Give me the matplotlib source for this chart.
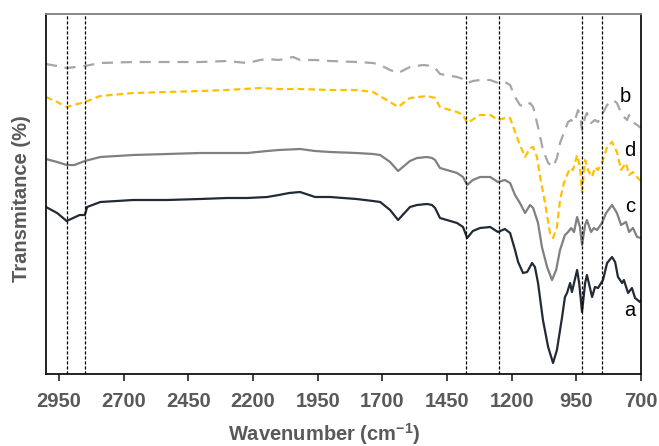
import matplotlib
matplotlib.use("Agg")
import matplotlib.pyplot as plt

plt.rcParams['font.family'] = ['Liberation Sans', 'DejaVu Sans']
plt.rcParams['mathtext.fontset'] = 'custom'
plt.rcParams['mathtext.rm'] = 'Liberation Sans:bold'
plt.rcParams['mathtext.bf'] = 'Liberation Sans:bold'

# FTIR spectra (offset transmittance, arbitrary units)
wn_a = [3000, 2957, 2920, 2870, 2850, 2841, 2790, 2663, 2532, 2404, 2300, 2222, 2145, 2100,
        2060, 2018, 1960, 1902, 1800, 1736, 1708, 1670, 1639, 1593, 1566, 1527, 1508, 1496,
        1477, 1411, 1388, 1372, 1350, 1322, 1283, 1253, 1226, 1206, 1187, 1175, 1156, 1140,
        1121, 1110, 1098, 1079, 1059, 1040, 1025, 1005, 994, 986, 974, 967, 947, 939, 928,
        916, 909, 889, 878, 866, 847, 831, 812, 800, 789, 773, 766, 750, 735, 723, 704, 700]
t_a = [167, 161, 153, 159, 159, 167, 172, 174, 174, 175, 176, 176, 177, 179,
       181, 182, 177, 177, 175, 173, 172, 164, 154, 167, 169, 170, 169, 166,
       156, 151, 147, 136, 143, 146, 147, 142, 145, 141, 124, 112, 101, 102,
       111, 107, 91, 54, 27, 11, 24, 57, 77, 81, 91, 82, 104, 91, 62,
       91, 99, 77, 87, 86, 94, 111, 117, 112, 97, 91, 94, 81, 86, 76, 72, 74]

wn_c = [3000, 2957, 2920, 2890, 2850, 2790, 2663, 2532, 2404, 2222, 2145, 2100, 2018, 1960,
        1902, 1800, 1736, 1708, 1670, 1639, 1593, 1566, 1527, 1508, 1496, 1477, 1411, 1388,
        1372, 1350, 1322, 1283, 1253, 1226, 1206, 1187, 1168, 1148, 1129, 1117, 1098, 1083,
        1063, 1044, 1028, 1013, 994, 982, 970, 959, 947, 936, 928, 916, 909, 893, 882, 870,
        851, 835, 812, 793, 777, 758, 746, 731, 715, 700]
t_c = [215, 212, 209, 209, 213, 217, 219, 220, 221, 221, 223, 224, 225, 223,
       222, 221, 220, 219, 212, 203, 213, 216, 217, 216, 214, 206, 201, 197,
       189, 194, 197, 197, 192, 194, 191, 179, 171, 161, 169, 166, 151, 127,
       107, 94, 104, 124, 139, 142, 146, 142, 157, 147, 129, 149, 154, 142, 146, 144,
       151, 161, 169, 161, 149, 152, 142, 146, 137, 136]

wn_d = [3000, 2957, 2920, 2850, 2790, 2663, 2532, 2404, 2300, 2172, 2100, 2018, 1902, 1800,
        1736, 1670, 1639, 1593, 1527, 1496, 1477, 1411, 1388, 1372, 1322, 1283, 1253, 1226,
        1206, 1187, 1168, 1148, 1129, 1117, 1102, 1090, 1071, 1052, 1040, 1025, 1013, 998,
        986, 974, 963, 947, 936, 928, 916, 905, 889, 878, 866, 851, 831, 812, 793, 777,
        758, 746, 731, 712, 700]
t_d = [277, 272, 267, 272, 278, 281, 282, 283, 284, 286, 285, 285, 284, 284,
       282, 272, 267, 276, 278, 276, 267, 262, 259, 251, 259, 259, 254, 256,
       256, 242, 229, 217, 226, 227, 217, 197, 171, 141, 136, 147, 174, 191,
       199, 206, 204, 219, 207, 182, 214, 204, 197, 207, 204, 211, 227, 232, 222, 204,
       211, 199, 202, 196, 193]

wn_b = [3000, 2957, 2920, 2850, 2790, 2663, 2532, 2404, 2300, 2222, 2172, 2145, 2100, 2045,
        2018, 1960, 1902, 1800, 1736, 1708, 1670, 1639, 1593, 1542, 1508, 1496, 1477, 1411,
        1388, 1372, 1350, 1322, 1283, 1253, 1226, 1206, 1187, 1168, 1148, 1129, 1117, 1098,
        1079, 1059, 1040, 1025, 1013, 994, 982, 970, 959, 943, 932, 928, 916, 909, 893, 878,
        866, 851, 831, 808, 793, 773, 754, 746, 731, 715, 700]
t_b = [310, 308, 306, 308, 311, 312, 312, 312, 313, 311, 314, 315, 314, 317,
       314, 314, 313, 312, 311, 309, 304, 301, 307, 309, 308, 306, 300, 297,
       295, 291, 293, 294, 294, 291, 292, 289, 277, 269, 267, 271, 267, 247,
       224, 211, 207, 216, 231, 244, 252, 254, 251, 264, 252, 244, 257, 261, 251, 254,
       252, 259, 269, 274, 271, 259, 254, 259, 252, 249, 246]

# Marked band positions (cm-1)
bands = [2920, 2850, 1375, 1250, 930, 850]

tick_vals = [2950, 2700, 2450, 2200, 1950, 1700, 1450, 1200, 950, 700]

label_col = '#595959'

fig = plt.figure(figsize=(6.59, 4.46), dpi=100)
ax = fig.add_axes([46 / 659, 1 - 374 / 446, (641 - 46) / 659, (374 - 14) / 446])

ax.plot(wn_b, t_b, color='#a6a6a6', lw=1.6, dashes=(5, 3.5))
ax.plot(wn_d, t_d, color='#ffc000', lw=1.6, dashes=(3, 1.8))
ax.plot(wn_c, t_c, color='#808080', lw=1.6)
ax.plot(wn_a, t_a, color='#222a35', lw=1.6)

for b in bands:
    ax.axvline(b, color='black', lw=0.9, dashes=(2.5, 1.5))

ax.set_xlim(3000, 700)
ax.set_ylim(0, 360)
ax.set_xticks(tick_vals)
ax.set_xticklabels([str(v) for v in tick_vals])
ax.set_yticks([])

ax.tick_params(axis='x', direction='out', length=5, width=1.2, color='#222222',
               labelsize=14.5, labelcolor=label_col, pad=8)
for lab in ax.get_xticklabels():
    lab.set_fontweight('bold')

for side in ['left', 'bottom', 'right']:
    ax.spines[side].set_color('#111111')
    ax.spines[side].set_linewidth(1.3)
ax.spines['top'].set_color('#7f7f7f')
ax.spines['top'].set_linewidth(1.3)

ax.set_ylabel('Transmitance (%)', fontsize=14.5, fontweight='bold', color=label_col)
ax.yaxis.set_label_coords(-0.026, 0.486)
fig.text(324 / 659, 1 - 434 / 446, r'Wavenumber (cm$^{\mathbf{-1}}$)', ha='center',
         va='center', fontsize=14.5, fontweight='bold', color=label_col)

for txt, wx, hy in [('b', 762, 278), ('d', 742, 223), ('c', 742, 167), ('a', 742, 64)]:
    ax.text(wx, hy, txt, fontsize=14.5, color='black', ha='center', va='center')

fig.savefig('out.png', dpi=100)
